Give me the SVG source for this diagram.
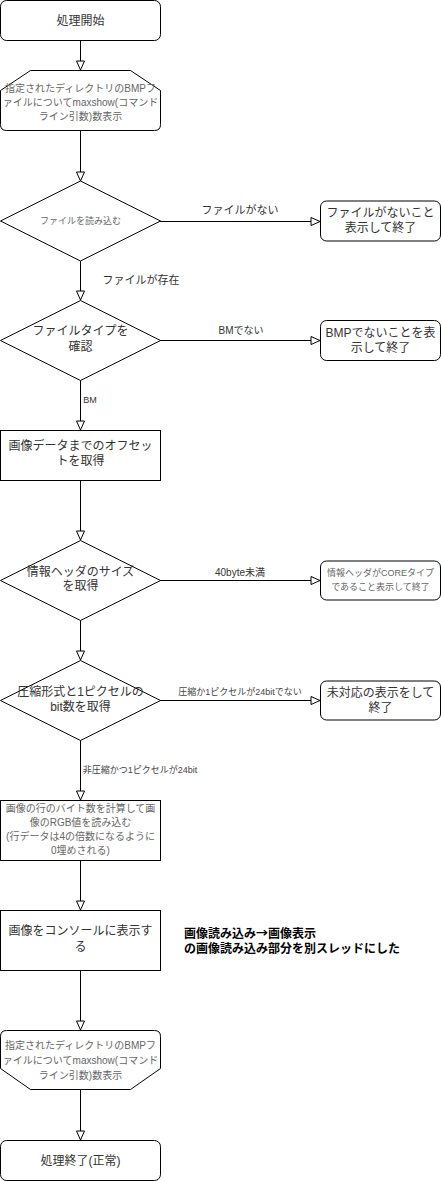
<svg xmlns="http://www.w3.org/2000/svg" width="441" height="1181" viewBox="0 0 441 1181">
<style>
text{font-family:"Liberation Sans","Noto Sans CJK JP",sans-serif;text-anchor:middle;dominant-baseline:central}
.s{fill:#fff;stroke:#000;stroke-width:1}
.t{font-size:12px;fill:#333}
.g{font-size:10px;fill:#666}
.g9{font-size:9px;fill:#666}
.l{font-size:11px;fill:#333}
.l9{font-size:9px;fill:#444}
.e{fill:none;stroke:#000;stroke-width:1}
.n{font-family:"Noto Sans CJK JP",sans-serif;font-size:12px;font-weight:bold;fill:#000;text-anchor:start}
</style>
<defs>
<marker id="a" markerUnits="userSpaceOnUse" markerWidth="12" markerHeight="12" refX="10" refY="5" orient="auto">
<path d="M1,1 L10,5 L1,9 z" fill="#fff" stroke="#000" stroke-width="1"/>
</marker>
</defs>
<g id="connectors">
<path class="e" d="M80.5,40.5 V70" marker-end="url(#a)"/>
<path class="e" d="M80.5,130 V181" marker-end="url(#a)"/>
<path class="e" d="M160,221.5 H320" marker-end="url(#a)"/>
<text class="l" x="240" y="210">ファイルがない</text>
<path class="e" d="M80.5,260 V300" marker-end="url(#a)"/>
<text class="l" x="141" y="280">ファイルが存在</text>
<path class="e" d="M160,340.5 H320" marker-end="url(#a)"/>
<text style="font-size:10px;fill:#333" x="241" y="330">BMでない</text>
<path class="e" d="M80.5,380 V430" marker-end="url(#a)"/>
<text style="font-size:9px;fill:#333" x="90" y="400">BM</text>
<path class="e" d="M80.5,480 V540" marker-end="url(#a)"/>
<path class="e" d="M160,580.5 H320" marker-end="url(#a)"/>
<text style="font-size:10px;fill:#333" x="240" y="572">40byte未満</text>
<path class="e" d="M80.5,620 V660" marker-end="url(#a)"/>
<path class="e" d="M160,700.5 H320" marker-end="url(#a)"/>
<text class="l9" x="240" y="692">圧縮か1ピクセルが24bitでない</text>
<path class="e" d="M80.5,740 V800" marker-end="url(#a)"/>
<text class="l9" x="140" y="770">非圧縮かつ1ピクセルが24bit</text>
<path class="e" d="M80.5,860 V910" marker-end="url(#a)"/>
<path class="e" d="M80.5,970 V1030" marker-end="url(#a)"/>
<path class="e" d="M80.5,1090 V1140" marker-end="url(#a)"/>
</g>
<g id="start">
<rect class="s" x="0.5" y="0.5" width="160" height="40" rx="6"/>
<text class="t" x="80.5" y="20.5">処理開始</text>
</g>
<g id="loopStart">
<path class="s" d="M30.5,70.5 H130.5 L160.5,90.5 V124.5 Q160.5,130.5 154.5,130.5 H6.5 Q0.5,130.5 0.5,124.5 V90.5 Z"/>
<text class="g" x="80.5" y="88">指定されたディレクトリのBMPフ</text>
<text class="g" x="80.5" y="102">ァイルについてmaxshow(コマンド</text>
<text class="g" x="80.5" y="116">ライン引数)数表示</text>
</g>
<g id="readFile">
<path class="s" d="M80.5,181 L160.5,221 L80.5,261 L0.5,221 Z"/>
<text class="g9" x="80.5" y="221">ファイルを読み込む</text>
</g>
<g id="noFile">
<rect class="s" x="320.5" y="201" width="120" height="40" rx="6"/>
<text class="t" x="380.5" y="213">ファイルがないこと</text>
<text class="t" x="380.5" y="228">表示して終了</text>
</g>
<g id="checkType">
<path class="s" d="M80.5,300.5 L160.5,340.5 L80.5,380.5 L0.5,340.5 Z"/>
<text class="t" x="80.5" y="331">ファイルタイプを</text>
<text class="t" x="80.5" y="347">確認</text>
</g>
<g id="notBmp">
<rect class="s" x="320.5" y="320.5" width="120" height="40" rx="6"/>
<text class="t" x="380.5" y="333">BMPでないことを表</text>
<text class="t" x="380.5" y="348">示して終了</text>
</g>
<g id="offset">
<rect class="s" x="0.5" y="430.5" width="160" height="50"/>
<text class="t" x="80.5" y="446">画像データまでのオフセッ</text>
<text class="t" x="80.5" y="461">トを取得</text>
</g>
<g id="headerSize">
<path class="s" d="M80.5,540.5 L160.5,580.5 L80.5,620.5 L0.5,580.5 Z"/>
<text class="t" x="80.5" y="572">情報ヘッダのサイズ</text>
<text class="t" x="80.5" y="586">を取得</text>
</g>
<g id="coreType">
<rect class="s" x="320.5" y="561" width="120" height="39" rx="6"/>
<text class="g9" x="380.5" y="573">情報ヘッダがCOREタイプ</text>
<text class="g9" x="380.5" y="587">であること表示して終了</text>
</g>
<g id="compression">
<path class="s" d="M80.5,660.5 L160.5,700.5 L80.5,740.5 L0.5,700.5 Z"/>
<text class="t" x="80.5" y="692">圧縮形式と1ピクセルの</text>
<text class="t" x="80.5" y="707">bit数を取得</text>
</g>
<g id="unsupported">
<rect class="s" x="320.5" y="681" width="120" height="39" rx="6"/>
<text class="t" x="380.5" y="693">未対応の表示をして</text>
<text class="t" x="380.5" y="708">終了</text>
</g>
<g id="readRgb">
<rect class="s" x="0.5" y="800.5" width="160" height="60"/>
<text class="g" x="80.5" y="808">画像の行のバイト数を計算して画</text>
<text class="g" x="80.5" y="822">像のRGB値を読み込む</text>
<text class="g" x="80.5" y="836">(行データは4の倍数になるように</text>
<text class="g" x="80.5" y="850">0埋めされる)</text>
</g>
<g id="display">
<rect class="s" x="0.5" y="910.5" width="160" height="60"/>
<text class="t" x="80.5" y="931">画像をコンソールに表示す</text>
<text class="t" x="80.5" y="947">る</text>
</g>
<g id="note">
<text class="n" x="184" y="932">画像読み込み→画像表示</text>
<text class="n" x="184" y="947">の画像読み込み部分を別スレッドにした</text>
</g>
<g id="loopEnd">
<path class="s" d="M6.5,1030.5 H154.5 Q160.5,1030.5 160.5,1036.5 V1068.5 L130.5,1089.5 H30.5 L0.5,1068.5 V1036.5 Q0.5,1030.5 6.5,1030.5 Z"/>
<text class="g" x="80.5" y="1045">指定されたディレクトリのBMPフ</text>
<text class="g" x="80.5" y="1060">ァイルについてmaxshow(コマンド</text>
<text class="g" x="80.5" y="1075">ライン引数)数表示</text>
</g>
<g id="end">
<rect class="s" x="0.5" y="1140.5" width="160" height="40" rx="6"/>
<text class="t" x="80.5" y="1160.5">処理終了(正常)</text>
</g>
</svg>
